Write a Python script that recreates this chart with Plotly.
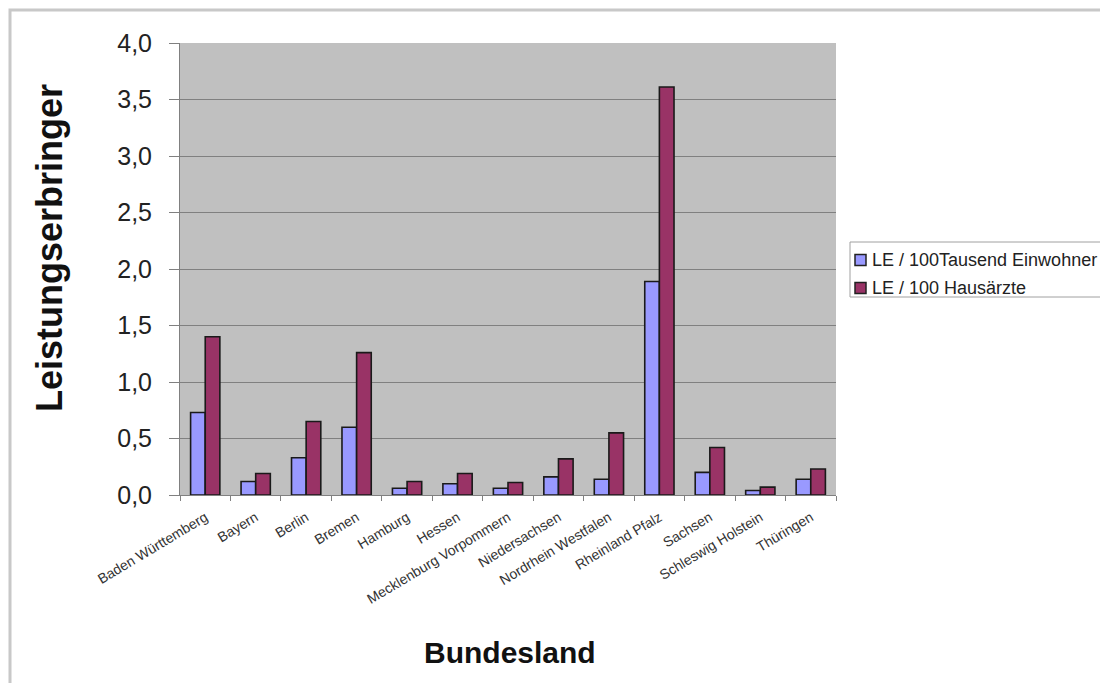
import plotly.graph_objects as go

categories = ["Baden Württemberg", "Bayern", "Berlin", "Bremen", "Hamburg", "Hessen",
              "Mecklenburg Vorpommern", "Niedersachsen", "Nordrhein Westfalen",
              "Rheinland Pfalz", "Sachsen", "Schleswig Holstein", "Thüringen"]
le_per_100k = [0.73, 0.12, 0.33, 0.60, 0.06, 0.10, 0.06, 0.16, 0.14, 1.89, 0.20, 0.04, 0.14]
le_per_100_ha = [1.40, 0.19, 0.65, 1.26, 0.12, 0.19, 0.11, 0.32, 0.55, 3.61, 0.42, 0.07, 0.23]
series_names = ["LE / 100Tausend Einwohner", "LE / 100 Hausärzte"]
series_colors = ["#9999FF", "#993366"]
y_ticks = [0, 0.5, 1.0, 1.5, 2.0, 2.5, 3.0, 3.5, 4.0]

# page-pixel geometry of the plot area (the html body adds an 8px margin)
PL, PR, PT, PB = 180, 836, 43, 495
W, H = 1100, 675


def px(x):
    return (x - PL) / (PR - PL)


def py(y):
    return (PB - y) / (PB - PT)


fig = go.Figure()
for vals, name, col in zip([le_per_100k, le_per_100_ha], series_names, series_colors):
    fig.add_trace(go.Bar(x=categories, y=vals, name=name,
                         marker=dict(color=col, line=dict(color="#1a1a1a", width=1.6))))

fig.update_layout(
    width=W, height=H,
    margin=dict(l=PL - 8, r=W - (PR - 8), t=PT - 8, b=H - (PB - 8), autoexpand=False),
    paper_bgcolor="white", plot_bgcolor="#C0C0C0",
    separators=",.",
    barmode="group", bargap=0.42, bargroupgap=0,
    font=dict(family="Liberation Sans, Arial, sans-serif", color="#111111"),
    showlegend=False,
    xaxis=dict(type="category", tickangle=-31, tickfont=dict(size=14, color="#333333"),
               ticks="outside", ticklen=5, tickcolor="#808080", tickson="boundaries",
               ticklabelstandoff=8,
               showline=True, linecolor="#808080", linewidth=1, automargin=False,
               showgrid=False),
    yaxis=dict(range=[0, 4.0], tickvals=y_ticks, tickformat=".1f",
               tickfont=dict(size=25, color="#222222"),
               ticks="outside", ticklen=10, tickcolor="#808080", ticklabelstandoff=12,
               showline=True, linecolor="#808080", linewidth=1,
               gridcolor="#808080", gridwidth=1, zeroline=False, automargin=False),
)

# axis titles
fig.add_annotation(text="<b>Bundesland</b>", xref="paper", yref="paper",
                   x=px(510), y=py(652), xanchor="center", yanchor="middle",
                   showarrow=False, font=dict(size=30, color="#111111"))
fig.add_annotation(text="<b>Leistungserbringer</b>", xref="paper", yref="paper",
                   x=px(49), y=py(248), xanchor="center", yanchor="middle",
                   textangle=-90, showarrow=False, font=dict(size=36, color="#111111"))

# custom legend
fig.add_shape(type="rect", xref="paper", yref="paper",
              x0=px(850), x1=px(1105), y0=py(297), y1=py(242),
              line=dict(color="#A0A0A0", width=1), fillcolor="white")
for i, (name, col) in enumerate(zip(series_names, series_colors)):
    yc = 260 + 28 * i
    fig.add_shape(type="rect", xref="paper", yref="paper",
                  x0=px(855), x1=px(866), y0=py(yc + 5.5), y1=py(yc - 5.5),
                  line=dict(color="#222222", width=1.5), fillcolor=col)
    fig.add_annotation(text=name, xref="paper", yref="paper",
                       x=px(870), y=py(yc), xanchor="left", yanchor="middle",
                       showarrow=False, font=dict(size=18, color="#222222"))

# outer frame
fig.add_shape(type="rect", xref="paper", yref="paper",
              x0=px(10), x1=px(1130), y0=py(720), y1=py(10),
              line=dict(color="#C8C8C8", width=3), fillcolor="rgba(0,0,0,0)", layer="below")

fig.write_html("out.html")
